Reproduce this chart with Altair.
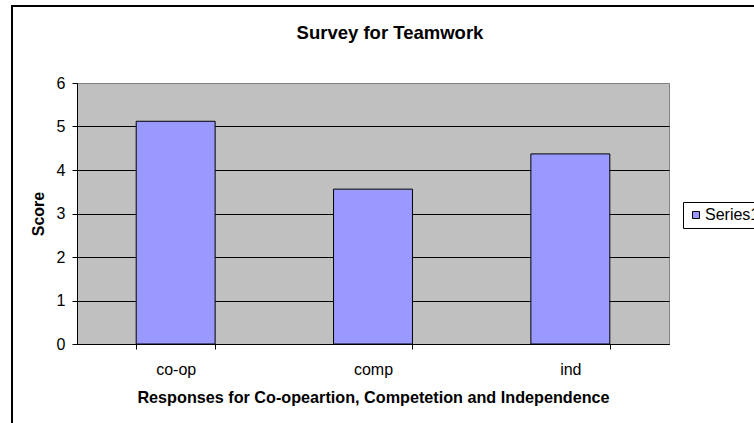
import altair as alt
import pandas as pd

# Survey scores per response type
categories = ["co-op", "comp", "ind"]
scores = [5.12, 3.56, 4.37]
series_name = "Series1"

y_ticks = [0, 1, 2, 3, 4, 5, 6]

FONT = "Liberation Sans"
BAR_FILL = "#9999FF"
PLOT_FILL = "#C0C0C0"

df = pd.DataFrame({
    "response": categories,
    "score": scores,
    "series": [series_name] * len(categories),
})

bars = alt.Chart(df).mark_bar(stroke="black", strokeWidth=1).encode(
    x=alt.X(
        "response:N",
        sort=categories,
        scale=alt.Scale(paddingInner=0.6, paddingOuter=0.3),
        axis=alt.Axis(
            title="Responses for Co-opeartion, Competetion and Independence",
            titleFont=FONT, titleFontSize=16.2, titleFontWeight="bold", titleColor="black",
            titleX=296, titleY=53, titleAlign="center", titleBaseline="middle",
            labelFont=FONT, labelFontSize=16, labelColor="black", labelAngle=0,
            labelPadding=12,
            domainColor="black", tickColor="black", tickSize=5, tickBand="extent",
            grid=False,
        ),
    ),
    y=alt.Y(
        "score:Q",
        scale=alt.Scale(domain=[0, 6], nice=False),
        axis=alt.Axis(
            title="Score", values=y_ticks, format="d",
            titleFont=FONT, titleFontSize=16, titleFontWeight="bold", titleColor="black",
            titleX=-39, titleY=130.5, titleAngle=-90, titleAlign="center", titleBaseline="middle",
            labelFont=FONT, labelFontSize=16, labelColor="black", labelPadding=7,
            domainColor="black", tickColor="black", tickSize=5,
            grid=True,
            gridColor={"condition": {"test": "datum.value === 6", "value": "#808080"}, "value": "black"},
            gridWidth=1,
        ),
    ),
    color=alt.Color(
        "series:N",
        scale=alt.Scale(range=[BAR_FILL]),
        legend=alt.Legend(
            title=None, orient="none", legendX=606, legendY=119,
            symbolType="square", symbolSize=49, symbolStrokeColor="black", symbolStrokeWidth=1,
            labelFont=FONT, labelFontSize=16, labelColor="black", labelOffset=1,
            strokeColor="black", fillColor="white", padding=5,
        ),
    ),
)

# Chart-area frame around everything
frame = alt.Chart(pd.DataFrame({"f": [0]})).mark_rect(
    filled=False, stroke="black", strokeWidth=2
).encode(
    x=alt.value(-65), x2=alt.value(800),
    y=alt.value(-77), y2=alt.value(420),
)

chart = alt.layer(frame, bars).properties(
    width=592,
    height=261,
    padding={"left": 77, "top": 83, "right": 85, "bottom": 79},
    autosize=alt.AutoSizeParams(type="none"),
    background="white",
    title=alt.TitleParams(
        "Survey for Teamwork", font=FONT, fontSize=18.5, fontWeight="bold", color="black",
        anchor="middle", frame="group", dx=17, offset=-37,
    ),
).configure_view(fill=PLOT_FILL, stroke="#808080", strokeWidth=1)

chart.save("out.html", embed_options={"renderer": "svg", "actions": False})
